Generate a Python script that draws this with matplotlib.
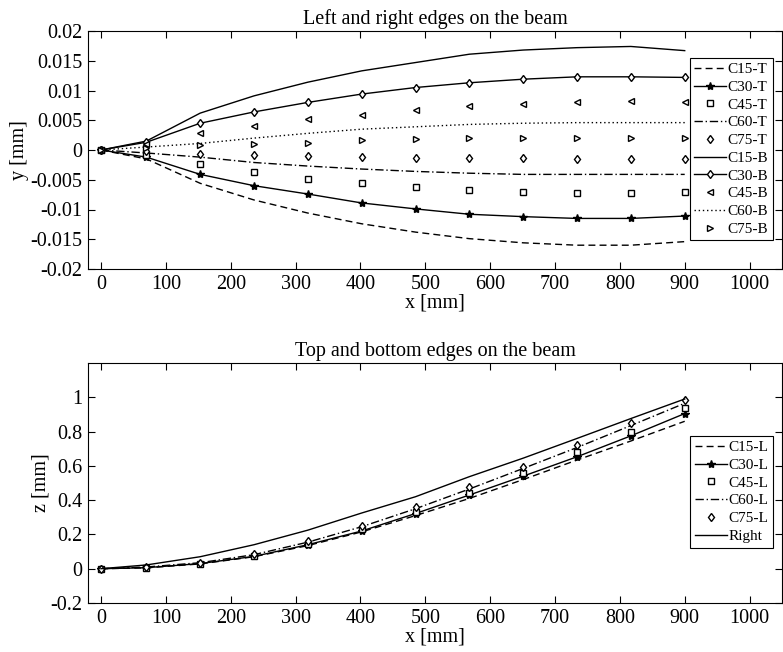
import numpy as np
import matplotlib
matplotlib.use("Agg")
import matplotlib.pyplot as plt

plt.rcParams['font.family'] = ['Liberation Serif', 'DejaVu Serif']

# positions along the beam [mm]
x = [0, 70, 153, 236, 319, 402, 485, 568, 651, 734, 817, 900]

# left/right edges, y [mm]
c15_t = [0, -0.0015, -0.0056, -0.0084, -0.0106, -0.0124, -0.0138, -0.0149, -0.0156, -0.0160, -0.0160, -0.0154]
c30_t = [0, -0.0012, -0.0041, -0.0060, -0.0074, -0.0089, -0.0099, -0.0108, -0.0112, -0.0115, -0.0115, -0.0111]
c45_t = [0, -0.0008, -0.0024, -0.0037, -0.0048, -0.0056, -0.0062, -0.0068, -0.0071, -0.0072, -0.0072, -0.0071]
c60_t = [0, -0.0005, -0.0012, -0.0021, -0.0027, -0.0032, -0.0036, -0.0039, -0.0041, -0.0041, -0.0041, -0.0041]
c75_t = [0, -0.0002, -0.0006, -0.0008, -0.0010, -0.0012, -0.0014, -0.0014, -0.0014, -0.0015, -0.0015, -0.0015]
c15_b = [0, 0.0015, 0.0062, 0.0091, 0.0114, 0.0133, 0.0147, 0.0161, 0.0168, 0.0172, 0.0174, 0.0167]
c30_b = [0, 0.0013, 0.0045, 0.0064, 0.0080, 0.0094, 0.0105, 0.0113, 0.0119, 0.0123, 0.0123, 0.0122]
c45_b = [0, 0.0010, 0.0028, 0.0041, 0.0052, 0.0059, 0.0068, 0.0074, 0.0077, 0.0080, 0.0082, 0.0080]
c60_b = [0, 0.0005, 0.0011, 0.0020, 0.0028, 0.0035, 0.0039, 0.0043, 0.0045, 0.0046, 0.0046, 0.0046]
c75_b = [0, 0.0003, 0.0008, 0.0010, 0.0012, 0.0017, 0.0019, 0.0020, 0.0020, 0.0020, 0.0020, 0.0020]

# top/bottom edges, z [mm]
c15_l = [0, 0.005, 0.028, 0.070, 0.135, 0.215, 0.310, 0.410, 0.520, 0.634, 0.745, 0.860]
c30_l = [0, 0.006, 0.030, 0.072, 0.140, 0.220, 0.322, 0.430, 0.540, 0.653, 0.775, 0.905]
c45_l = [0, 0.005, 0.030, 0.075, 0.145, 0.230, 0.333, 0.440, 0.560, 0.680, 0.800, 0.935]
c60_l = [0, 0.010, 0.035, 0.082, 0.155, 0.245, 0.350, 0.465, 0.585, 0.707, 0.835, 0.965]
c75_l = [0, 0.010, 0.035, 0.085, 0.160, 0.250, 0.362, 0.475, 0.595, 0.720, 0.850, 0.985]
right = [0, 0.022, 0.070, 0.140, 0.225, 0.325, 0.420, 0.537, 0.645, 0.760, 0.876, 0.990]

fig = plt.figure(figsize=(7.83, 6.52), dpi=100)
ax1 = fig.add_axes([88 / 783, (652 - 269) / 652, 694 / 783, 238 / 652])
ax2 = fig.add_axes([88 / 783, (652 - 603) / 652, 694 / 783, 240 / 652])

lw = 1.0
op = dict(mfc='white', mec='black', mew=1.0)

ax1.plot(x, c15_t, color='k', lw=lw, ls=(0, (5, 3)), label='C15-T')
ax1.plot(x, c30_t, color='k', lw=lw, marker='*', ms=6, label='C30-T')
ax1.plot(x, c45_t, ls='none', marker='s', ms=5, label='C45-T', **op)
ax1.plot(x, c60_t, color='k', lw=lw, ls=(0, (6, 2, 1, 2)), label='C60-T')
ax1.plot(x, c75_t, ls='none', marker='d', ms=4.5, label='C75-T', **op)
ax1.plot(x, c15_b, color='k', lw=lw, label='C15-B')
ax1.plot(x, c30_b, color='k', lw=lw, marker='d', ms=4.5, label='C30-B', **op)
ax1.plot(x, c45_b, ls='none', marker='<', ms=5, label='C45-B', **op)
ax1.plot(x, c60_b, color='k', lw=lw, ls=(0, (1, 2)), label='C60-B')
ax1.plot(x, c75_b, ls='none', marker='>', ms=5, label='C75-B', **op)

ax2.plot(x, c15_l, color='k', lw=lw, ls=(0, (5, 3)), label='C15-L')
ax2.plot(x, c30_l, color='k', lw=lw, marker='*', ms=6, label='C30-L')
ax2.plot(x, c45_l, ls='none', marker='s', ms=5, label='C45-L', **op)
ax2.plot(x, c60_l, color='k', lw=lw, ls=(0, (6, 2, 1, 2)), label='C60-L')
ax2.plot(x, c75_l, ls='none', marker='d', ms=4.5, label='C75-L', **op)
ax2.plot(x, right, color='k', lw=lw, label='Right')

xt = np.arange(0, 1001, 100)
for ax in (ax1, ax2):
    ax.set_xlim(-20, 1050)
    ax.set_xticks(xt)
    ax.tick_params(direction='in', top=True, right=True, labelsize=14.5, length=5, width=0.8, pad=4)
    ax.set_xlabel('x [mm]', fontsize=14.5, labelpad=0)
    for s in ax.spines.values():
        s.set_linewidth(0.8)

ax1.set_ylim(-0.02, 0.02)
yt1 = [-0.02, -0.015, -0.01, -0.005, 0, 0.005, 0.01, 0.015, 0.02]
ax1.set_yticks(yt1)
ax1.set_yticklabels(['-0.02', '-0.015', '-0.01', '-0.005', '0', '0.005', '0.01', '0.015', '0.02'])
ax1.set_ylabel('y [mm]', fontsize=14.5, labelpad=1)
ax1.set_title('Left and right edges on the beam', fontsize=14.5, pad=5)

ax2.set_ylim(-0.2, 1.2)
yt2 = [-0.2, 0, 0.2, 0.4, 0.6, 0.8, 1.0]
ax2.set_yticks(yt2)
ax2.set_yticklabels(['-0.2', '0', '0.2', '0.4', '0.6', '0.8', '1'])
ax2.set_ylabel('z [mm]', fontsize=14.5, labelpad=0)
ax2.set_title('Top and bottom edges on the beam', fontsize=14.5, pad=5)

leg_kw = dict(fontsize=11, frameon=True, fancybox=False, edgecolor='black',
              handlelength=2.1, handletextpad=0.1, labelspacing=0.265,
              borderpad=0.3, borderaxespad=0, framealpha=1)
l1 = ax1.legend(loc='upper right', bbox_to_anchor=(0.987, 0.887), **leg_kw)
l1.get_frame().set_linewidth(0.8)
l2 = ax2.legend(loc='upper right', bbox_to_anchor=(0.987, 0.696), **leg_kw)
l2.get_frame().set_linewidth(0.8)

fig.savefig('out.png', dpi=100)
